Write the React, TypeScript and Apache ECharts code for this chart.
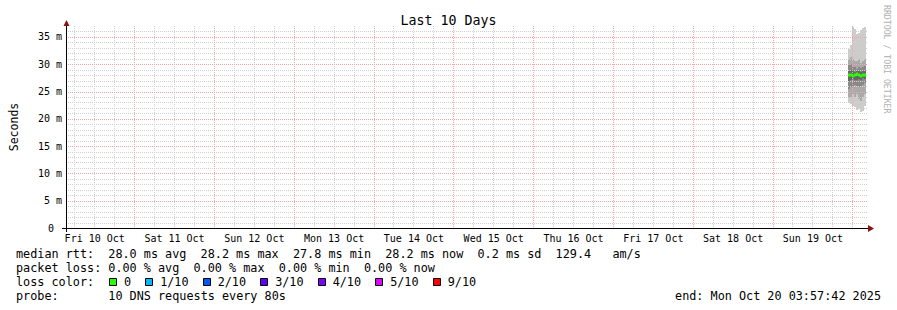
import React, { useEffect, useRef } from 'react';
import * as echarts from 'echarts';

const FONT = '"DejaVu Sans Mono", monospace';

// x values are hours since Fri 10 Oct 00:00
const startHour = 3.962; // Fri Oct 10 03:57:42
const endHour = 243.962; // Mon Oct 20 03:57:42

const dayLabels = ['Fri 10 Oct', 'Sat 11 Oct', 'Sun 12 Oct', 'Mon 13 Oct', 'Tue 14 Oct', 'Wed 15 Oct', 'Thu 16 Oct', 'Fri 17 Oct', 'Sat 18 Oct', 'Sun 19 Oct'];
const dayLabelHours = [12, 36, 60, 84, 108, 132, 156, 180, 204, 228];
const majorXHours = [24, 48, 72, 96, 120, 144, 168, 192, 216, 240];
const minorXHours = [6, 12, 18, 30, 36, 42, 54, 60, 66, 78, 84, 90, 102, 108, 114, 126, 132, 138, 150, 156, 162, 174, 180, 186, 198, 204, 210, 222, 228, 234];

const yMax = 37;
const yLabelValues = [0, 5, 10, 15, 20, 25, 30, 35];
const majorY = [5, 10, 15, 20, 25, 30, 35];
const minorY = [1, 2, 3, 4, 6, 7, 8, 9, 11, 12, 13, 14, 16, 17, 18, 19, 21, 22, 23, 24, 26, 27, 28, 29, 31, 32, 33, 34, 36];

// smoke columns (start hour of each step), step length in hours
const colStart = [238.6, 239.2, 239.8, 240.4, 241.0, 241.6, 242.2, 242.8, 243.4];
const colStep = 0.6;
// rtt in ms
const pingMin = [22.9, 22.7, 22.3, 22.2, 21.6, 21.8, 21.2, 21.4, 22.3];
const pingMax = [32.8, 33.5, 36.8, 36.5, 35.5, 35.7, 36.3, 36.6, 36.8];
const band2Low = [23.8, 24.0, 24.5, 24.0, 24.5, 23.6, 23.2, 24.0, 24.5];
const band2High = [31.0, 31.4, 31.0, 30.5, 30.6, 31.0, 30.2, 30.5, 31.0];
const band3Low = [25.5, 25.8, 26.0, 26.2, 26.0, 25.8, 26.0, 26.2, 26.5];
const band3High = [29.8, 30.0, 29.5, 29.5, 29.2, 29.5, 29.3, 29.5, 29.6];
const band4Low = [27.0, 27.2, 27.3, 27.1, 27.2, 27.3, 27.2, 27.4, 27.3];
const band4High = [28.8, 28.9, 28.7, 28.6, 28.7, 28.8, 28.6, 28.7, 28.8];
const median = [28.1, 28.0, 27.9, 28.0, 28.2, 28.0, 27.9, 28.1, 28.0];

const lossLabels = ['0', '1/10', '2/10', '3/10', '4/10', '5/10', '9/10'];
const lossColors = ['#26ff00', '#00b8ff', '#0059ff', '#5e00ff', '#7e00ff', '#dd00ff', '#ff0000'];

const rttLine: [string, number][] = [
  ['median rtt:', 0], ['28.0 ms avg', 13], ['28.2 ms max', 26], ['27.8 ms min', 39],
  ['28.2 ms now', 52], ['0.2 ms sd', 65], ['129.4', 76], ['am/s', 84],
];
const lossLine: [string, number][] = [
  ['packet loss:', 0], ['0.00 % avg', 13], ['0.00 % max', 25], ['0.00 % min', 37], ['0.00 % now', 49],
];
const probeLine: [string, number][] = [['probe:', 0], ['10 DNS requests every 80s', 13]];
const endText = 'end: Mon Oct 20 03:57:42 2025';

const CW = 7.1; // monospace char width
const LX = 16;
const LEG_FONT = `11.8px ${FONT}`;

function bandSeries(lo: number[], hi: number[], color: string, z: number) {
  return {
    type: 'custom',
    z,
    silent: true,
    clip: true,
    data: colStart.map((t, i) => [t, lo[i], hi[i]]),
    encode: { x: 0, y: [1, 2] },
    renderItem: (_p: any, api: any) => {
      const t = api.value(0);
      const a = api.coord([t, api.value(2)]);
      const b = api.coord([t + colStep, api.value(1)]);
      const x0 = Math.round(a[0]);
      const x1 = Math.round(b[0]);
      const y0 = Math.round(a[1]);
      const y1 = Math.round(b[1]);
      return {
        type: 'rect',
        shape: { x: x0, y: y0, width: x1 - x0, height: y1 - y0 },
        style: { fill: color },
      };
    },
  };
}

// grid lines drawn through the axes' scales, snapped to pixel centres
function gridSeries(values: number[], dir: 'x' | 'y', color: string, z: number) {
  return {
    type: 'custom',
    z,
    silent: true,
    data: values.map((v) => (dir === 'x' ? [v, 1] : [startHour + 1, v])),
    encode: { x: 0, y: 1 },
    renderItem: (params: any, api: any) => {
      const cs = params.coordSys;
      const p = api.coord([api.value(0), api.value(1)]);
      if (dir === 'x') {
        const x = Math.floor(p[0]) + 0.5;
        return {
          type: 'line',
          shape: { x1: x, y1: cs.y, x2: x, y2: cs.y + cs.height },
          style: { stroke: color, lineWidth: 1, lineDash: [1, 1] },
        };
      }
      const y = Math.round(p[1]) + 0.5;
      return {
        type: 'line',
        shape: { x1: cs.x, y1: y, x2: cs.x + cs.width + 2, y2: y },
        style: { stroke: color, lineWidth: 1, lineDash: [1, 1] },
      };
    },
  };
}

export default function App() {
  const ref = useRef<HTMLDivElement>(null);
  useEffect(() => {
    if (!ref.current) return;
    const chart = echarts.init(ref.current, null, { renderer: 'svg' });

    const graphics: any[] = [];
    const addLine = (parts: [string, number][], y: number) => {
      parts.forEach(([txt, col]) => {
        graphics.push({
          type: 'text', x: LX + col * CW, y,
          style: { text: txt, font: LEG_FONT, fill: '#000', textAlign: 'left', textVerticalAlign: 'middle' },
        });
      });
    };
    addLine(rttLine, 254);
    addLine(lossLine, 268);
    addLine([['loss color:', 0]], 282);
    let col = 13.1;
    lossLabels.forEach((lab, i) => {
      const bx = Math.round(LX + col * CW);
      graphics.push({
        type: 'rect',
        shape: { x: bx + 0.5, y: 278.5, width: 7, height: 7 },
        style: { fill: lossColors[i], stroke: '#000', lineWidth: 1 },
      });
      const lc = col + 2.1;
      graphics.push({
        type: 'text', x: LX + lc * CW, y: 282,
        style: { text: lab, font: LEG_FONT, fill: '#000', textAlign: 'left', textVerticalAlign: 'middle' },
      });
      col = lc + lab.length + 2;
    });
    addLine(probeLine, 296);
    graphics.push({
      type: 'text', x: 881, y: 296,
      style: { text: endText, font: LEG_FONT, fill: '#000', textAlign: 'right', textVerticalAlign: 'middle' },
    });
    // axes lines and arrows (rrdtool style)
    graphics.push({ type: 'line', shape: { x1: 66.5, y1: 232, x2: 66.5, y2: 24 }, style: { stroke: '#000', lineWidth: 1 }, z: 20 });
    graphics.push({ type: 'line', shape: { x1: 62, y1: 228.5, x2: 869, y2: 228.5 }, style: { stroke: '#000', lineWidth: 1 }, z: 20 });
    graphics.push({ type: 'polygon', shape: { points: [[63.5, 26], [69.5, 26], [66.5, 20]] }, style: { fill: '#8b1010' }, z: 21 });
    graphics.push({ type: 'polygon', shape: { points: [[868, 225], [868, 232], [874, 228.5]] }, style: { fill: '#8b1010' }, z: 21 });
    // credit
    graphics.push({
      type: 'text', x: 887, y: 5, rotation: -Math.PI / 2,
      style: { text: 'RRDTOOL / TOBI OETIKER', font: `8.2px ${FONT}`, fill: '#b0b0b0', textAlign: 'left', textVerticalAlign: 'middle' },
    });

    const option: any = {
      animation: false,
      backgroundColor: '#ffffff',
      title: {
        text: 'Last 10 Days',
        left: 'center',
        top: 9,
        textStyle: { fontFamily: FONT, fontSize: 13.3, fontWeight: 'normal', color: '#000' },
      },
      grid: { left: 66, right: 31, top: 26, bottom: 82, containLabel: false },
      xAxis: {
        type: 'value',
        min: startHour,
        max: endHour,
        axisLine: { show: false },
        axisTick: { show: false },
        splitLine: { show: false },
        axisLabel: {
          customValues: dayLabelHours,
          formatter: (v: number) => {
            const i = dayLabelHours.indexOf(Math.round(v));
            return i >= 0 ? dayLabels[i] : '';
          },
          fontFamily: FONT,
          fontSize: 10,
          color: '#000',
          margin: 5,
          hideOverlap: false,
        },
      },
      yAxis: {
        type: 'value',
        min: 0,
        max: yMax,
        name: 'Seconds',
        nameLocation: 'middle',
        nameRotate: 90,
        nameGap: 48,
        nameTextStyle: { fontFamily: FONT, fontSize: 11.5, color: '#000' },
        axisLine: { show: false },
        axisTick: { show: false },
        splitLine: { show: false },
        axisLabel: {
          customValues: yLabelValues,
          formatter: (v: number) => (v === 0 ? '{z|0}' : `${v} m`),
          rich: { z: { fontFamily: FONT, fontSize: 10, color: '#000', padding: [0, 8, 0, 0] } },
          fontFamily: FONT,
          fontSize: 10,
          color: '#000',
          margin: 6,
        },
      },
      graphic: graphics,
      series: [
        bandSeries(pingMin, pingMax, '#cccccc', 2),
        bandSeries(band2Low, band2High, '#aaaaaa', 2),
        bandSeries(band3Low, band3High, '#888888', 2),
        bandSeries(band4Low, band4High, '#666666', 2),
        gridSeries(minorY, 'y', '#d0d0d0', 3),
        gridSeries(minorXHours, 'x', '#d0d0d0', 3),
        gridSeries(majorY, 'y', '#f2a6a6', 4),
        gridSeries(majorXHours, 'x', '#f2a6a6', 4),
        {
          type: 'custom',
          z: 8,
          silent: true,
          data: colStart.map((t, i) => [t, median[i]]),
          encode: { x: 0, y: 1 },
          renderItem: (_p: any, api: any) => {
            const t = api.value(0);
            const a = api.coord([t, api.value(1)]);
            const b = api.coord([Math.min(t + colStep, endHour), api.value(1)]);
            const x0 = Math.round(a[0]);
            const x1 = Math.round(b[0]);
            return {
              type: 'rect',
              shape: { x: x0, y: Math.round(a[1]) - 1.5, width: x1 - x0, height: 3 },
              style: { fill: lossColors[0] },
            };
          },
        },
      ],
    };
    chart.setOption(option);
    return () => chart.dispose();
  }, []);
  return <div ref={ref} style={{ position: 'absolute', left: 0, top: 0, width: 897, height: 310 }} />;
}
